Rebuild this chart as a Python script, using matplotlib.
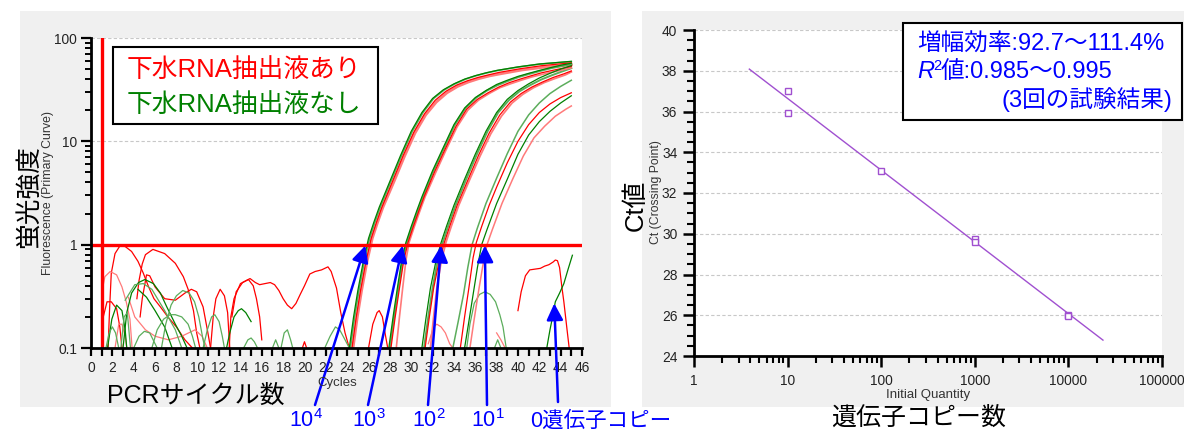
import matplotlib
matplotlib.use('Agg')
import matplotlib.pyplot as plt
from matplotlib.patches import Rectangle
from matplotlib.ticker import LogLocator, NullFormatter, MultipleLocator, FixedLocator

plt.rcParams['font.family'] = ['Liberation Sans', 'Noto Sans CJK JP']
plt.rcParams['mathtext.fontset'] = 'custom'
plt.rcParams['mathtext.rm'] = 'Liberation Sans'
plt.rcParams['mathtext.it'] = 'Liberation Sans:italic'

# ---------------- data: amplification curves (cycle, fluorescence) ----------------
amp_cycles = [
    # 10^4
    [24.2, 24.6, 25.0, 25.5, 26.0, 26.5, 27.0, 28.0, 29.0, 30.0, 31.0, 32.0, 33.0, 34.0, 35.0, 36.0, 37.0, 38.0, 40.0, 42.0, 45.0],
    [24.3, 24.7, 25.1, 25.6, 26.1, 26.6, 27.1, 28.1, 29.1, 30.1, 31.1, 32.1, 33.1, 34.1, 35.1, 36.1, 37.1, 38.1, 40.1, 42.1, 45.0],
    [24.45, 24.85, 25.25, 25.75, 26.25, 26.75, 27.25, 28.25, 29.25, 30.25, 31.25, 32.25, 33.25, 34.25, 35.25, 36.25, 37.25, 38.25, 40.25, 42.25, 45.0],
    [24.55, 24.95, 25.35, 25.85, 26.35, 26.85, 27.35, 28.35, 29.35, 30.35, 31.35, 32.35, 33.35, 34.35, 35.35, 36.35, 37.35, 38.35, 40.35, 42.35, 45.0],
    # 10^3
    [27.9, 28.3, 28.7, 29.1, 29.5, 30.0, 30.5, 31.0, 32.0, 33.0, 34.0, 35.0, 36.0, 37.0, 38.0, 39.0, 40.0, 41.0, 42.0, 43.0, 44.0, 45.0],
    [28.0, 28.4, 28.8, 29.2, 29.6, 30.1, 30.6, 31.1, 32.1, 33.1, 34.1, 35.1, 36.1, 37.1, 38.1, 39.1, 40.1, 41.1, 42.1, 43.1, 44.1, 45.0],
    [28.1, 28.5, 28.9, 29.3, 29.7, 30.2, 30.7, 31.2, 32.2, 33.2, 34.2, 35.2, 36.2, 37.2, 38.2, 39.2, 40.2, 41.2, 42.2, 43.2, 44.2, 45.0],
    [28.6, 28.9, 29.2, 29.5, 29.8, 30.3, 30.8, 31.3, 32.3, 33.3, 34.3, 35.3, 36.3, 37.3, 38.3, 39.3, 40.3, 41.3, 42.3, 43.3, 44.3, 45.0],
    # 10^2
    [31.0, 31.4, 31.8, 32.3, 32.8, 33.3, 34.0, 35.0, 36.0, 37.0, 38.0, 39.0, 40.0, 41.0, 42.0, 43.0, 44.0, 45.0],
    [31.2, 31.6, 32.0, 32.45, 32.95, 33.45, 34.15, 35.15, 36.15, 37.15, 38.15, 39.15, 40.15, 41.15, 42.15, 43.15, 44.15, 45.0],
    [31.3, 31.7, 32.1, 32.6, 33.1, 33.6, 34.3, 35.3, 36.3, 37.3, 38.3, 39.3, 40.3, 41.3, 42.3, 43.3, 44.3, 45.0],
    [31.8, 32.1, 32.4, 32.8, 33.25, 33.75, 34.45, 35.45, 36.45, 37.45, 38.45, 39.45, 40.45, 41.45, 42.45, 43.45, 44.45, 45.0],
    # 10^1
    [33.9, 34.4, 34.9, 35.3, 35.7, 36.2, 37.0, 38.0, 39.0, 40.0, 41.0, 42.0, 43.0, 44.0, 45.0],
    [34.6, 35.0, 35.4, 35.8, 36.1, 36.6, 37.3, 38.0, 39.0, 40.0, 41.0, 42.0, 43.0, 44.0, 45.0],
    [35.0, 35.4, 35.8, 36.2, 36.6, 37.1, 38.0, 39.0, 40.0, 41.0, 42.0, 43.0, 44.0, 45.0],
    [35.5, 35.9, 36.3, 36.7, 37.1, 37.6, 38.5, 39.5, 40.5, 41.5, 42.5, 43.5, 44.5, 45.0],
]
amp_fluor = [
    [0.1, 0.2, 0.36, 0.68, 1.15, 1.65, 2.3, 4.1, 7.3, 12.5, 19.0, 26.0, 31.5, 36.0, 40.0, 43.2, 46.0, 48.5, 52.5, 56.0, 59.5],
    [0.1, 0.2, 0.36, 0.68, 1.15, 1.65, 2.3, 4.1, 7.3, 12.5, 19.0, 26.0, 31.5, 36.0, 40.0, 43.2, 46.0, 48.5, 52.5, 56.0, 59.0],
    [0.1, 0.2, 0.36, 0.68, 1.15, 1.65, 2.3, 4.1, 7.3, 12.3, 18.5, 25.0, 30.5, 35.0, 38.5, 41.5, 44.0, 46.5, 50.5, 54.0, 57.5],
    [0.1, 0.2, 0.36, 0.68, 1.15, 1.65, 2.3, 4.0, 7.1, 12.0, 18.0, 24.0, 29.5, 34.0, 37.5, 40.5, 43.0, 45.0, 49.0, 52.0, 55.0],
    [0.1, 0.2, 0.38, 0.7, 1.05, 1.5, 2.1, 2.9, 5.2, 8.7, 14.5, 21.0, 26.5, 31.0, 35.5, 39.0, 42.5, 45.5, 48.5, 51.5, 54.5, 57.0],
    [0.1, 0.2, 0.38, 0.7, 1.05, 1.5, 2.1, 2.9, 5.2, 8.7, 14.5, 21.0, 26.5, 31.0, 35.0, 38.5, 42.0, 45.0, 48.0, 51.0, 53.5, 56.0],
    [0.1, 0.2, 0.38, 0.7, 1.05, 1.5, 2.1, 2.9, 5.1, 8.5, 14.0, 20.5, 25.5, 29.5, 33.5, 37.0, 40.0, 43.0, 46.0, 48.5, 51.0, 53.0],
    [0.1, 0.2, 0.38, 0.7, 1.05, 1.5, 2.1, 2.9, 5.0, 8.4, 13.8, 20.0, 25.0, 29.0, 33.0, 36.0, 39.0, 42.0, 44.5, 47.0, 49.5, 51.5],
    [0.1, 0.2, 0.38, 0.68, 1.05, 1.5, 2.4, 4.3, 7.5, 12.5, 19.0, 25.5, 31.0, 36.0, 41.0, 45.5, 50.0, 54.0],
    [0.1, 0.2, 0.38, 0.68, 1.05, 1.5, 2.4, 4.3, 7.5, 12.5, 19.0, 25.0, 30.5, 35.0, 39.5, 43.5, 47.5, 51.0],
    [0.1, 0.2, 0.38, 0.68, 1.05, 1.5, 2.4, 4.2, 7.3, 12.0, 18.0, 24.0, 29.0, 33.5, 37.5, 41.5, 45.0, 48.0],
    [0.1, 0.2, 0.38, 0.68, 1.05, 1.5, 2.4, 4.2, 7.2, 11.8, 17.5, 23.5, 28.5, 33.0, 37.0, 40.5, 44.0, 47.0],
    [0.1, 0.18, 0.33, 0.6, 1.0, 1.45, 2.5, 4.4, 7.6, 12.5, 18.0, 23.5, 29.0, 34.0, 39.0],
    [0.1, 0.2, 0.38, 0.75, 1.05, 1.5, 2.4, 3.6, 6.2, 10.0, 14.5, 19.0, 23.0, 26.5, 29.5],
    [0.1, 0.18, 0.33, 0.6, 1.0, 1.4, 2.5, 4.3, 7.5, 11.5, 15.5, 19.5, 23.5, 27.6],
    [0.1, 0.19, 0.35, 0.62, 1.0, 1.4, 2.5, 4.3, 7.2, 10.8, 14.0, 17.5, 20.5, 22.0],
]
# background noise curves below the threshold
red_noise_cyc = [
    [1.6, 1.75, 1.9, 2.25, 2.7, 3.2, 3.8, 4.4, 4.9, 5.4, 5.9, 6.5, 7.2, 8.0, 8.8, 9.5],
    [4.3, 4.5, 4.8, 5.1, 5.8, 6.9, 7.9, 8.65, 9.1, 9.6, 9.9, 10.2],
    [1.0, 1.3, 1.8, 2.4, 2.9, 3.3, 3.65, 3.85],
    [1.15, 1.5, 1.9, 2.4, 2.7, 2.9],
    [2.25, 2.6, 2.9, 3.2, 3.35],
    [4.6, 4.8, 5.2, 5.5, 6.0, 6.9, 7.9, 8.8, 9.4, 9.9, 10.5, 10.9, 11.2],
    [3.5, 4.1, 5.1, 6.0, 7.25, 8.5, 9.75, 10.4, 10.9],
    [11.2, 11.45, 11.7, 12.1, 12.5, 12.8, 13.0],
    [12.95, 13.1, 13.4, 14.0, 14.75, 15.2, 15.5, 15.8, 16.0],
    [13.2, 13.6, 14.2, 14.9, 15.4, 15.8, 16.3, 16.8, 17.2, 17.6, 18.0, 18.4, 18.8, 19.2, 19.6, 20.0, 20.5, 21.0, 21.6, 22.2, 22.5, 23.0, 23.4, 23.8, 24.2],
    [19.8, 20.0, 20.2],
    [26.0, 26.4, 26.8, 27.0, 27.3, 27.6, 27.8],
    [31.6, 32.1, 32.4, 32.8, 33.2, 33.6, 33.9],
    [38.0, 38.4, 38.8],
    [40.0, 40.3, 40.7, 41.1, 41.6, 42.1, 42.5, 42.9, 43.3, 43.5, 43.7, 43.9, 44.1, 44.3, 44.6, 44.8],
]
red_noise_flu = [
    [0.1, 0.25, 0.53, 0.82, 0.97, 0.96, 0.86, 0.69, 0.53, 0.39, 0.30, 0.25, 0.2, 0.16, 0.12, 0.1],
    [0.3, 0.45, 0.65, 0.8, 0.9, 0.82, 0.66, 0.49, 0.37, 0.23, 0.14, 0.1],
    [0.34, 0.49, 0.55, 0.51, 0.39, 0.28, 0.19, 0.1],
    [0.2, 0.28, 0.28, 0.24, 0.16, 0.1],
    [0.1, 0.17, 0.17, 0.13, 0.1],
    [0.2, 0.3, 0.51, 0.5, 0.39, 0.3, 0.29, 0.34, 0.37, 0.35, 0.25, 0.15, 0.1],
    [0.31, 0.2, 0.15, 0.13, 0.12, 0.13, 0.15, 0.13, 0.1],
    [0.1, 0.2, 0.3, 0.37, 0.32, 0.22, 0.1],
    [0.1, 0.2, 0.3, 0.42, 0.46, 0.4, 0.3, 0.2, 0.12],
    [0.2, 0.35, 0.43, 0.47, 0.43, 0.41, 0.42, 0.43, 0.41, 0.36, 0.3, 0.26, 0.24, 0.27, 0.33, 0.4, 0.52, 0.55, 0.57, 0.61, 0.55, 0.38, 0.22, 0.14, 0.1],
    [0.1, 0.115, 0.1],
    [0.1, 0.17, 0.22, 0.23, 0.2, 0.13, 0.1],
    [0.11, 0.16, 0.17, 0.16, 0.14, 0.11, 0.1],
    [0.14, 0.12, 0.1],
    [0.23, 0.35, 0.5, 0.57, 0.58, 0.59, 0.62, 0.64, 0.68, 0.71, 0.7, 0.6, 0.4, 0.28, 0.15, 0.1],
]
green_noise_cyc = [
    [1.55, 1.95, 2.4, 2.9, 3.2, 3.35],
    [1.4, 1.7, 2.0, 2.3, 2.6],
    [3.0, 3.35, 3.8, 4.45, 5.05, 5.85, 6.5, 7.1, 7.9, 8.5, 9.0],
    [3.2, 4.1, 4.9, 5.7, 6.9, 7.9, 8.5],
    [4.4, 5.2, 6.0, 6.9, 7.6],
    [6.6, 7.0, 7.5, 8.0, 8.6, 9.2, 9.7, 10.1, 10.5, 10.7],
    [5.7, 6.2, 6.8, 7.4, 7.9, 8.5, 9.1, 9.5, 9.8],
    [4.0, 4.5, 5.0, 5.5, 6.0, 6.2],
    [10.5, 10.9, 11.3, 11.6, 12.0, 12.3, 12.5],
    [12.7, 13.0, 13.4, 13.8, 14.1, 14.5, 15.0],
    [14.3, 14.7, 15.0, 15.3, 15.6],
    [17.0, 17.3, 17.6],
    [17.8, 18.1, 18.4, 18.7, 18.9],
    [21.9, 22.4, 22.9, 23.3, 23.8, 24.2],
    [35.2, 35.5, 35.9, 36.4, 36.9, 37.4, 37.9, 38.3, 38.6, 38.9],
    [37.8, 38.1, 38.4],
    [42.7, 43.0, 43.2, 43.5, 43.9, 44.3, 44.7, 45.1],
    [2.8, 3.1, 3.4, 3.7],
]
green_noise_flu = [
    [0.1, 0.19, 0.26, 0.23, 0.15, 0.1],
    [0.1, 0.14, 0.16, 0.14, 0.1],
    [0.1, 0.22, 0.34, 0.43, 0.46, 0.42, 0.34, 0.25, 0.17, 0.13, 0.1],
    [0.29, 0.41, 0.42, 0.37, 0.23, 0.15, 0.1],
    [0.37, 0.31, 0.23, 0.16, 0.1],
    [0.1, 0.17, 0.26, 0.32, 0.36, 0.34, 0.28, 0.2, 0.12, 0.1],
    [0.1, 0.15, 0.19, 0.21, 0.21, 0.2, 0.17, 0.13, 0.1],
    [0.1, 0.13, 0.145, 0.14, 0.11, 0.1],
    [0.1, 0.15, 0.2, 0.21, 0.18, 0.13, 0.1],
    [0.1, 0.14, 0.2, 0.23, 0.24, 0.22, 0.18],
    [0.1, 0.12, 0.125, 0.115, 0.1],
    [0.1, 0.12, 0.1],
    [0.1, 0.14, 0.15, 0.12, 0.1],
    [0.1, 0.13, 0.16, 0.15, 0.12, 0.1],
    [0.1, 0.17, 0.27, 0.33, 0.35, 0.33, 0.28, 0.21, 0.16, 0.1],
    [0.1, 0.12, 0.1],
    [0.1, 0.15, 0.19, 0.28, 0.34, 0.42, 0.58, 0.79],
    [0.1, 0.2, 0.22, 0.1],
]
threshold = 1.0
threshold_cycle = 1.0
arrow_labels = ['10$^{4}$', '10$^{3}$', '10$^{2}$', '10$^{1}$', '0遺伝子コピー']
arrow_targets_cycle = [25.7, 29.2, 32.8, 36.9, 43.4]
arrow_targets_fluor = [0.98, 0.98, 0.98, 0.98, 0.27]
y_ticks_left = [0.1, 1, 10, 100]
y_ticklabels_left = ['0.1', '1', '10', '100']
legend_texts = ['下水RNA抽出液あり', '下水RNA抽出液なし']

# standard curve
quantity = [10, 10, 100, 1000, 1000, 10000, 10000]
ct_values = [37.0, 35.95, 33.1, 29.75, 29.6, 26.0, 25.95]
fit_quantity = [3.9, 23400]
fit_ct = [38.08, 24.78]
x_ticks_right = [1, 10, 100, 1000, 10000, 100000]
x_ticklabels_right = ['1', '10', '100', '1000', '10000', '100000']
box_line1 = '増幅効率:92.7〜111.4%'
box_line2 = '値:0.985〜0.995'
box_line3 = '(3回の試験結果)'

# ---------------- figure ----------------
W, H = 1184, 430
fig = plt.figure(figsize=(W / 100, H / 100), dpi=100)
fig.patch.set_facecolor('white')

def fx(px):
    return px / W

def fy(py_top):
    return 1 - py_top / H

fig.add_artist(Rectangle((fx(20), fy(407)), fx(591), 396 / H, transform=fig.transFigure,
                         facecolor='#f0f0f0', edgecolor='none', zorder=-10))
fig.add_artist(Rectangle((fx(642), fy(407)), fx(542), 396 / H, transform=fig.transFigure,
                         facecolor='#f0f0f0', edgecolor='none', zorder=-10))

BLUE = '#0000ff'
RED = '#ff0000'
RED_L = '#ff7a7a'
GREEN = '#008000'
GREEN_L = '#5cad5c'

# ---------------- left chart ----------------
ax1 = fig.add_axes([fx(91), 82 / H, fx(491), 310 / H])
ax1.set_facecolor('white')
ax1.set_yscale('log')
ax1.set_xlim(0, 46)
ax1.set_ylim(0.1, 100)

for yv in (10, 100):
    ax1.axhline(yv, color='#c8c8c8', lw=0.8, ls=(0, (3, 2)), zorder=1)

for cyc, flu, col in zip(red_noise_cyc, red_noise_flu,
                         [RED, RED, RED_L, RED, RED_L, RED, RED_L, RED, RED, RED, RED, RED, RED_L, RED_L, RED]):
    ax1.plot(cyc, flu, color=col, lw=0.9, zorder=2)
for cyc, flu, col in zip(green_noise_cyc, green_noise_flu,
                         [GREEN, GREEN_L, GREEN, GREEN_L, GREEN, GREEN_L, GREEN_L, GREEN_L, GREEN_L,
                          GREEN, GREEN_L, GREEN_L, GREEN_L, GREEN_L, GREEN_L, GREEN_L, GREEN, GREEN_L]):
    ax1.plot(cyc, flu, color=col, lw=0.9, zorder=2)

amp_styles = [
    (GREEN, 0.9), (GREEN_L, 1.2), (RED, 0.9), (RED_L, 2.0),
    (GREEN, 0.9), (GREEN_L, 1.4), (RED, 0.9), (RED_L, 1.2),
    (GREEN, 0.9), (GREEN_L, 1.4), (RED, 0.9), (RED_L, 1.3),
    (GREEN_L, 1.1), (RED, 0.9), (GREEN, 0.9), (RED_L, 1.1),
]
order = sorted(range(len(amp_cycles)), key=lambda i: -amp_styles[i][1])
for i in order:
    col, lw = amp_styles[i]
    ax1.plot(amp_cycles[i], amp_fluor[i], color=col, lw=lw, zorder=3)

ax1.axhline(threshold, color=RED, lw=2.4, zorder=4)
ax1.axvline(threshold_cycle, color=RED, lw=2.4, zorder=4)

for s in ('top', 'right'):
    ax1.spines[s].set_visible(False)
for s in ('left', 'bottom'):
    ax1.spines[s].set_linewidth(2.0)
    ax1.spines[s].set_zorder(5)

ax1.xaxis.set_major_locator(FixedLocator(list(range(0, 47, 2))))
ax1.xaxis.set_minor_locator(FixedLocator(list(range(0, 47))))
ax1.set_yticks(y_ticks_left)
ax1.set_yticklabels(y_ticklabels_left)
ax1.yaxis.set_minor_locator(LogLocator(base=10, subs=range(2, 10)))
ax1.yaxis.set_minor_formatter(NullFormatter())
ax1.tick_params(axis='x', which='both', direction='out', length=6, width=1.6,
                labelsize=9.9, pad=3, labelcolor='#222222')
ax1.tick_params(axis='y', which='major', direction='out', length=7, width=1.6,
                labelsize=9.9, pad=3, labelcolor='#222222')
ax1.tick_params(axis='y', which='minor', direction='out', length=4, width=1.4)

# arrows
tails = [(315, 25), (368, 25), (428, 25), (487, 25), (558, 28)]
for (tx, ty), cx, cy in zip(tails, arrow_targets_cycle, arrow_targets_fluor):
    ax1.annotate('', xy=(cx, cy), xycoords='data', xytext=(tx, ty), textcoords='figure pixels',
                 arrowprops=dict(arrowstyle='-|>,head_length=1.0,head_width=0.5', color=BLUE,
                                 lw=1.8, shrinkA=0, shrinkB=0),
                 annotation_clip=False, zorder=8)

label_x = [289, 352, 412, 471, 530]
for lx, txt in zip(label_x, arrow_labels):
    fig.text(fx(lx), 3 / H, txt, fontsize=15.5, color=BLUE, ha='left', va='baseline')

# legend box
fig.add_artist(Rectangle((fx(113), fy(124)), fx(265), 77 / H, transform=fig.transFigure,
                         facecolor='white', edgecolor='black', lw=1.5, zorder=6))
fig.text(fx(127), fy(70), legend_texts[0], fontsize=18.5, color=RED, ha='left', va='center', zorder=7)
fig.text(fx(127), fy(105), legend_texts[1], fontsize=18.5, color=GREEN, ha='left', va='center', zorder=7)

fig.text(fx(29), fy(197), '蛍光強度', rotation=90, fontsize=18.5, ha='center', va='center')
fig.text(fx(48), fy(193), 'Fluorescence (Primary Curve)', rotation=90, fontsize=8.8,
         color='#333333', ha='center', va='center')
fig.text(fx(337), fy(383), 'Cycles', fontsize=9.5, color='#333333', ha='center', va='center')
fig.text(fx(107), fy(396), 'PCRサイクル数', fontsize=18, ha='left', va='center')

# ---------------- right chart ----------------
ax2 = fig.add_axes([fx(694), 74 / H, fx(468), 326 / H])
ax2.set_facecolor('white')
ax2.set_xscale('log')
ax2.set_xlim(1, 100000)
ax2.set_ylim(24, 40)
for yv in range(26, 41, 2):
    ax2.axhline(yv, color='#c8c8c8', lw=0.8, ls=(0, (3, 2)), zorder=1)

PURPLE = '#a050d0'
ax2.plot(fit_quantity, fit_ct, color=PURPLE, lw=1.0, zorder=3)
ax2.plot(quantity, ct_values, ls='none', marker='s', markersize=4.5, markerfacecolor='white',
         markeredgecolor=PURPLE, markeredgewidth=1.0, zorder=4)

for s in ('top', 'right'):
    ax2.spines[s].set_visible(False)
for s in ('left', 'bottom'):
    ax2.spines[s].set_linewidth(2.0)

ax2.set_xticks(x_ticks_right)
ax2.set_xticklabels(x_ticklabels_right)
ax2.xaxis.set_minor_locator(LogLocator(base=10, subs=range(2, 10)))
ax2.xaxis.set_minor_formatter(NullFormatter())
ax2.set_yticks(list(range(24, 41, 2)))
ax2.yaxis.set_minor_locator(MultipleLocator(0.5))
ax2.tick_params(axis='both', which='major', direction='out', length=8, width=1.8,
                labelsize=9.9, labelcolor='#222222')
ax2.tick_params(axis='x', which='major', pad=5)
ax2.tick_params(axis='y', which='major', pad=4)
ax2.tick_params(axis='both', which='minor', direction='out', length=5, width=1.5)

fig.text(fx(636), fy(205), 'Ct値', rotation=90, fontsize=18.5, ha='center', va='center')
fig.text(fx(656), fy(192), 'Ct (Crossing Point)', rotation=90, fontsize=8.8,
         color='#333333', ha='center', va='center')
fig.text(fx(928), fy(395), 'Initial Quantity', fontsize=9.5, color='#333333', ha='center', va='center')
fig.text(fx(919), fy(418), '遺伝子コピー数', fontsize=18, ha='center', va='center')

# info box
fig.add_artist(Rectangle((fx(903), fy(120)), fx(279), 97 / H, transform=fig.transFigure,
                         facecolor='white', edgecolor='black', lw=1.5, zorder=6))
fig.text(fx(917), fy(45), box_line1, fontsize=17, color=BLUE, ha='left', va='center', zorder=7)
fig.text(fx(917), fy(72), 'R', fontsize=17, color=BLUE, style='italic', family='Liberation Sans',
         ha='left', va='center', zorder=7)
fig.text(fx(933), fy(66), '2', fontsize=10.5, color=BLUE, ha='left', va='center', zorder=7)
fig.text(fx(941), fy(72), box_line2, fontsize=17, color=BLUE, ha='left', va='center', zorder=7)
fig.text(fx(1172), fy(100), box_line3, fontsize=17, color=BLUE, ha='right', va='center', zorder=7)

fig.savefig('out.png', dpi=100)
